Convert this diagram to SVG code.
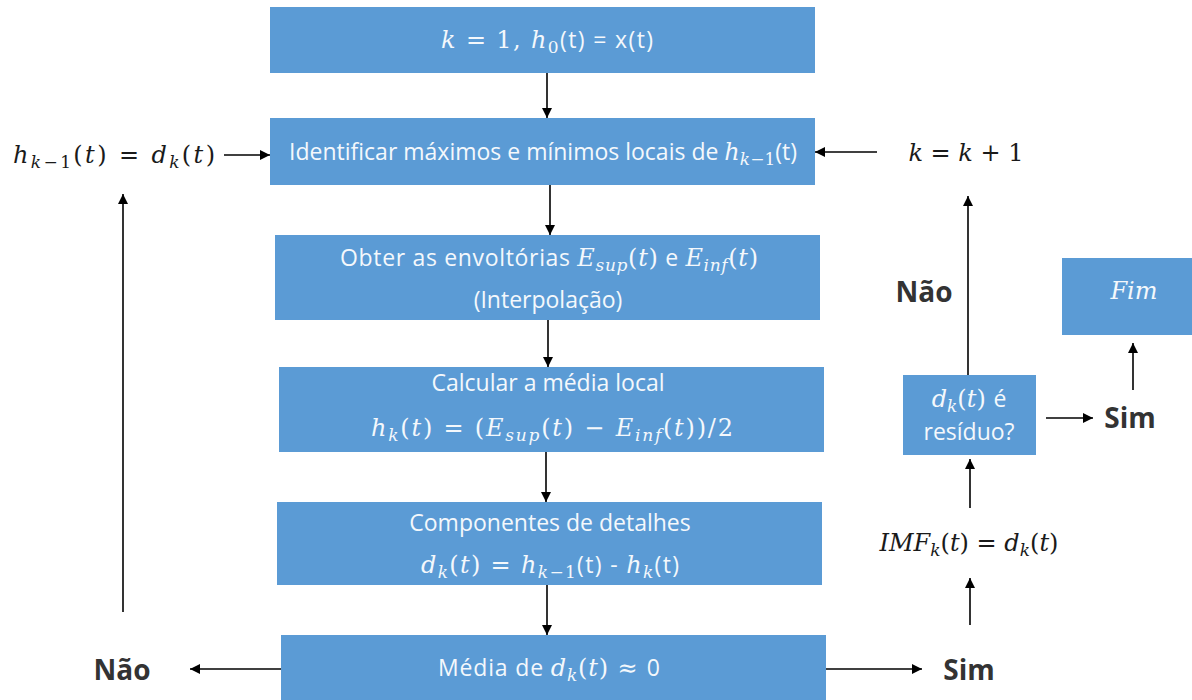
<svg xmlns="http://www.w3.org/2000/svg" width="1192" height="700" viewBox="0 0 1192 700">
<style>
.box{fill:#5B9BD5;}
.t{font-family:"Open Sans","Liberation Sans",sans-serif;font-size:23px;fill:#F4F8FC;text-anchor:middle;}
.m{font-family:"DejaVu Serif","Liberation Serif",serif;font-style:italic;font-size:24px;}
.u{font-family:"DejaVu Serif","Liberation Serif",serif;font-style:normal;font-size:24px;}
.s{font-size:17px;}
.blk{fill:#1a1a1a;}
.lab{font-family:"Open Sans","Liberation Sans",sans-serif;font-size:28px;font-weight:bold;fill:#333;text-anchor:middle;}
.ln{stroke:#000;stroke-width:1.6;fill:none;marker-end:url(#ah);}
</style>
<defs>
<marker id="ah" viewBox="0 0 10 10" refX="10" refY="5" markerWidth="10" markerHeight="10" markerUnits="userSpaceOnUse" orient="auto">
<path d="M0,0 L10,5 L0,10 z" fill="#000"/>
</marker>
</defs>
<rect width="1192" height="700" fill="#fff"/>

<g id="n1"><rect class="box" x="270" y="7" width="545" height="66"/>
<text class="t" x="547" y="48" textLength="212" lengthAdjust="spacing"><tspan class="m">k</tspan><tspan class="u"> = 1, </tspan><tspan class="m">h</tspan><tspan class="u s" dy="5">0</tspan><tspan dy="-5">(t) = x(t)</tspan></text></g>

<g id="n2"><rect class="box" x="270" y="118" width="545" height="67"/>
<text class="t" x="543" y="160">Identificar máximos e mínimos locais de <tspan class="m">h</tspan><tspan class="m s" dy="5">k</tspan><tspan class="u s">−1</tspan><tspan dy="-5">(t)</tspan></text></g>

<g id="n3"><rect class="box" x="275" y="235" width="545" height="85"/>
<text class="t" x="549" y="266" textLength="418" lengthAdjust="spacing">Obter as envoltórias <tspan class="m">E</tspan><tspan class="m s" dy="5">sup</tspan><tspan class="u" dy="-5">(</tspan><tspan class="m">t</tspan><tspan class="u">)</tspan> e <tspan class="m">E</tspan><tspan class="m s" dy="5">inf</tspan><tspan class="u" dy="-5">(</tspan><tspan class="m">t</tspan><tspan class="u">)</tspan></text>
<text class="t" x="548" y="308">(Interpolação)</text></g>

<g id="n4"><rect class="box" x="279" y="367" width="545" height="85"/>
<text class="t" x="548" y="391">Calcular a média local</text>
<text class="t" x="552" y="436" textLength="362" lengthAdjust="spacing"><tspan class="m">h</tspan><tspan class="m s" dy="5">k</tspan><tspan class="u" dy="-5">(</tspan><tspan class="m">t</tspan><tspan class="u">) = (</tspan><tspan class="m">E</tspan><tspan class="m s" dy="5">sup</tspan><tspan class="u" dy="-5">(</tspan><tspan class="m">t</tspan><tspan class="u">) −  </tspan><tspan class="m">E</tspan><tspan class="m s" dy="5">inf</tspan><tspan class="u" dy="-5">(</tspan><tspan class="m">t</tspan><tspan class="u">))/2</tspan></text></g>

<g id="n5"><rect class="box" x="277" y="502" width="545" height="83"/>
<text class="t" x="550" y="531">Componentes de detalhes</text>
<text class="t" x="550" y="573" textLength="258" lengthAdjust="spacing"><tspan class="m">d</tspan><tspan class="m s" dy="5">k</tspan><tspan class="u" dy="-5">(</tspan><tspan class="m">t</tspan><tspan class="u">) =  </tspan><tspan class="m">h</tspan><tspan class="m s" dy="5">k</tspan><tspan class="u s">−1</tspan><tspan dy="-5">(t) - </tspan><tspan class="m">h</tspan><tspan class="m s" dy="5">k</tspan><tspan dy="-5">(t)</tspan></text></g>

<g id="n6"><rect class="box" x="281" y="635" width="545" height="65"/>
<text class="t" x="549" y="676" textLength="222" lengthAdjust="spacing">Média de <tspan class="m">d</tspan><tspan class="m s" dy="5">k</tspan><tspan class="u" dy="-5">(</tspan><tspan class="m">t</tspan><tspan class="u">) ≈ </tspan>0</text></g>

<g id="n7"><rect class="box" x="903" y="375" width="133" height="80"/>
<text class="t" x="969" y="407" font-size="22"><tspan class="m" font-size="23">d</tspan><tspan class="m s" dy="5">k</tspan><tspan class="u" dy="-5" font-size="23">(</tspan><tspan class="m" font-size="23">t</tspan><tspan class="u" font-size="23">) </tspan>é</text>
<text class="t" x="969" y="440" font-size="22">resíduo?</text></g>

<g id="n8"><rect class="box" x="1062" y="258" width="130" height="77"/>
<text class="t" x="1134" y="299"><tspan class="m" font-size="23">Fim</tspan></text></g>

<g id="lbl-left"><text class="t blk" x="114" y="163" textLength="202" lengthAdjust="spacing"><tspan class="m">h</tspan><tspan class="m s" dy="5">k</tspan><tspan class="u s">−1</tspan><tspan class="u" dy="-5">(</tspan><tspan class="m">t</tspan><tspan class="u">) =  </tspan><tspan class="m">d</tspan><tspan class="m s" dy="5">k</tspan><tspan class="u" dy="-5">(</tspan><tspan class="m">t</tspan><tspan class="u">)</tspan></text></g>
<g id="lbl-k"><text class="t blk" x="966" y="161"><tspan class="m">k</tspan><tspan class="u"> = </tspan><tspan class="m">k</tspan><tspan class="u"> + 1</tspan></text></g>
<g id="lbl-imf"><text class="t blk" x="969" y="551"><tspan class="m">IMF</tspan><tspan class="m s" dy="5">k</tspan><tspan class="u" dy="-5">(</tspan><tspan class="m">t</tspan><tspan class="u">) =  </tspan><tspan class="m">d</tspan><tspan class="m s" dy="5">k</tspan><tspan class="u" dy="-5">(</tspan><tspan class="m">t</tspan><tspan class="u">)</tspan></text></g>
<g id="lbl-nao1"><text class="lab" x="122" y="680">Não</text></g>
<g id="lbl-sim1"><text class="lab" x="969" y="680">Sim</text></g>
<g id="lbl-nao2"><text class="lab" x="924" y="302">Não</text></g>
<g id="lbl-sim2"><text class="lab" x="1130" y="428">Sim</text></g>

<g id="connectors">
<line class="ln" x1="547" y1="73" x2="547" y2="118"/>
<line class="ln" x1="550" y1="185" x2="550" y2="235"/>
<line class="ln" x1="548" y1="320" x2="548" y2="367"/>
<line class="ln" x1="546" y1="452" x2="546" y2="502"/>
<line class="ln" x1="547" y1="585" x2="547" y2="635"/>
<line class="ln" x1="281" y1="669" x2="190" y2="669"/>
<line class="ln" x1="123" y1="612" x2="123" y2="194"/>
<line class="ln" x1="224" y1="155" x2="270" y2="155"/>
<line class="ln" x1="877" y1="152" x2="815" y2="152"/>
<line class="ln" x1="826" y1="669" x2="922" y2="669"/>
<line class="ln" x1="970" y1="625" x2="970" y2="578"/>
<line class="ln" x1="970" y1="508" x2="970" y2="459"/>
<line class="ln" x1="1046" y1="418" x2="1093" y2="418"/>
<line class="ln" x1="1133" y1="390" x2="1133" y2="343"/>
<line class="ln" x1="968" y1="375" x2="968" y2="196"/>
</g>
</svg>
